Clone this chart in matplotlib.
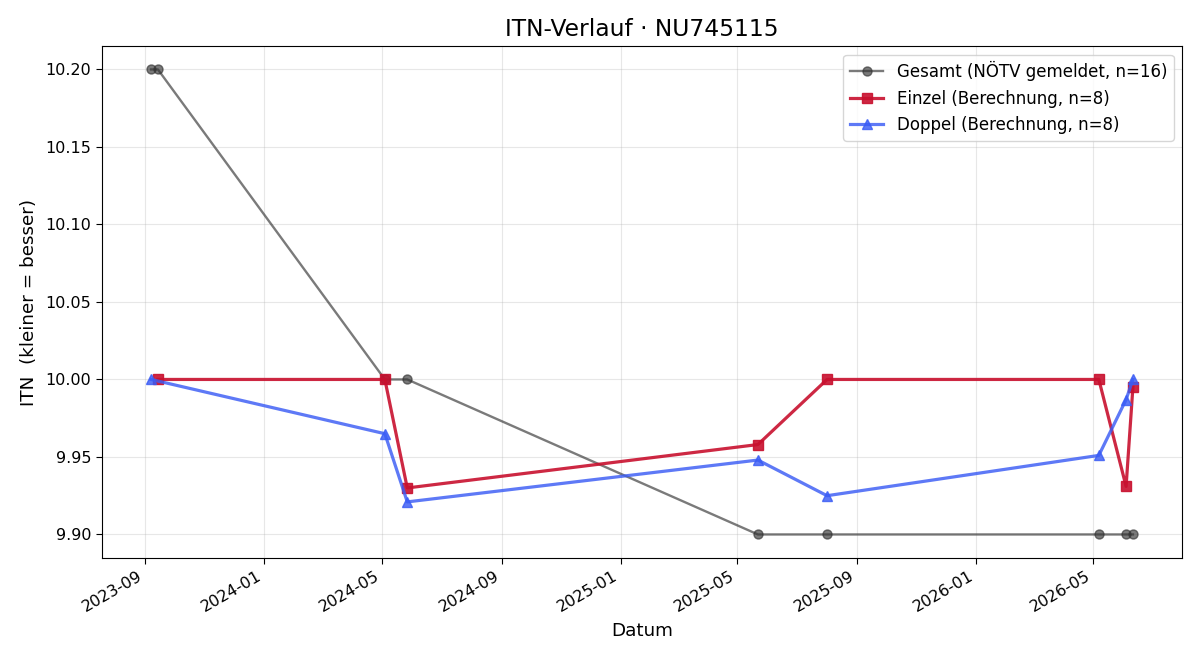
import matplotlib
matplotlib.use("Agg")
import matplotlib.pyplot as plt
import matplotlib.dates as mdates
import numpy as np

# Gesamt (reported)
ges_dates = ["2023-09-07", "2023-09-14", "2024-05-04", "2024-05-27", "2025-05-22",
             "2025-08-01", "2026-05-07", "2026-06-04", "2026-06-11"]
ges_itn = [10.20, 10.20, 10.00, 10.00, 9.90, 9.90, 9.90, 9.90, 9.90]

# Einzel (computed)
ein_dates = ["2023-09-14", "2024-05-04", "2024-05-27", "2025-05-22",
             "2025-08-01", "2026-05-07", "2026-06-04", "2026-06-11"]
ein_itn = [10.00, 10.00, 9.930, 9.958, 10.00, 10.00, 9.931, 9.995]

# Doppel (computed)
dop_dates = ["2023-09-07", "2024-05-04", "2024-05-27", "2025-05-22",
             "2025-08-01", "2026-05-07", "2026-06-04", "2026-06-11"]
dop_itn = [10.00, 9.965, 9.921, 9.948, 9.925, 9.951, 9.987, 10.00]

def d(lst):
    return np.array(lst, dtype="datetime64[D]")

fig, ax = plt.subplots(figsize=(12, 6.6), dpi=100)

ax.plot(d(ges_dates), ges_itn, marker="o", color="#333333", alpha=0.65,
        linewidth=1.7, markersize=6.5, label="Gesamt (NÖTV gemeldet, n=16)")
ax.plot(d(ein_dates), ein_itn, marker="s", color="#c8102e", alpha=0.9,
        linewidth=2.3, markersize=7.5, label="Einzel (Berechnung, n=8)")
ax.plot(d(dop_dates), dop_itn, marker="^", color="#3a5cf5", alpha=0.82,
        linewidth=2.3, markersize=7.5, label="Doppel (Berechnung, n=8)")

ax.set_title("ITN-Verlauf · NU745115", fontsize=16.8, pad=7)
ax.set_xlabel("Datum", fontsize=13.2, labelpad=5)
ax.set_ylabel("ITN  (kleiner = besser)", fontsize=13.2, labelpad=5)
ax.yaxis.set_major_formatter(matplotlib.ticker.FormatStrFormatter("%.2f"))
ax.xaxis.set_major_locator(mdates.MonthLocator(bymonth=[1, 5, 9]))
ax.xaxis.set_major_formatter(mdates.DateFormatter("%Y-%m"))
ax.tick_params(labelsize=11.5, length=4.2)
ax.grid(True, alpha=0.3)
ax.legend(loc="upper right", fontsize=12)
fig.autofmt_xdate()

fig.subplots_adjust(left=0.085, right=0.985, top=0.93, bottom=0.155)
fig.savefig("out.png", dpi=100)
